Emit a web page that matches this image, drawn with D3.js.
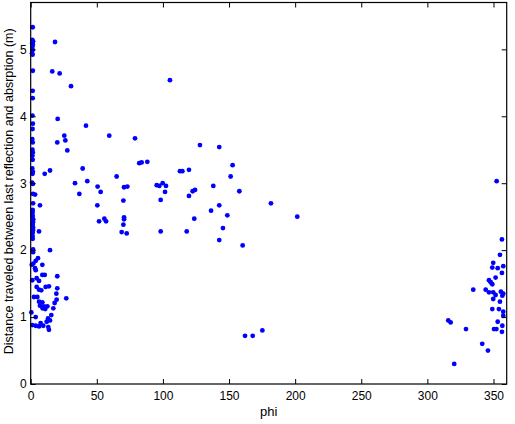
<!DOCTYPE html>
<html><head><meta charset="utf-8">
<script src="https://cdn.jsdelivr.net/npm/d3@7"></script>
<style>body{margin:0;background:#fff}svg{display:block}text{font-family:"Liberation Sans",Arial,sans-serif}</style>
</head><body>
<svg id="c" width="515" height="424"></svg>
<script>
// phi (degrees) and distance (m) for each point
const phi = [
 // near-zero column
 1.5,1.2,1.8,1.2,1.6,1.3,1.5,1.0,1.4,1.6,1.5,1.5,1.3,1.6,1.4,1.2,1.5,1.3,1.6,1.3,1.5,1.2,1.6,1.4,1.0,1.6,1.8,3.3,1.8,1.5,1.4,1.5,1.9,1.8,1.5,1.8,1.8,1.5,1.4,1.5,1.8,1.8,
 // upper-left scatter
 18.4,16.3,21.9,30.5,20.4,41.8,25.4,26.2,20.1,27.7,39.3,14.6,10.6,33.5,42.8,36.8,7.0,6.3,14.6,59.4,65,50.6,52.9,50.4,55.7,57,51.7,
 // lower-left cluster
 2.0,3.8,5.5,8.8,3.8,8.8,10.6,20.1,1.2,4.5,6.3,4.5,6.3,11.3,13.8,20.1,8,2.5,5.0,19.4,26.9,19.6,6.3,8.8,18.1,7,10,12.6,9,11,17.1,15.6,0.5,3.8,1.2,3.8,7.5,6.3,9.5,13.1,12.1,14.6,13.3,13.8,0.8,3.3,
 // middle
 78.9,128,142.6,82.1,83.9,88.2,152.7,112.9,114.7,119.7,151.2,70.6,73.1,95.3,97.3,99.8,102.3,138.1,101.6,122.5,124.3,119.7,157.8,70.1,98.3,181.7,142.6,136.4,148.7,201.6,70.6,70.6,70.1,123.7,145.4,68.8,72.6,98.3,118,142.6,160.3,105.3,162.1,167.9,175.2,
 // right cluster
 352.4,356.4,354.9,349.8,349.1,353.2,357.4,356.4,351.6,346.6,347.9,349.1,334.7,344.1,346.6,349.8,351.6,355.6,357.4,356.7,349.8,354.9,349.1,354.1,357.4,357.4,353.2,356.7,350.4,352.2,356.4,315.8,317.6,329.2,341.5,345.8,320.3
];
const dist = [
 5.33,5.14,5.12,5.09,5.07,5.04,4.99,4.94,4.92,4.68,4.38,4.27,4.01,3.89,3.81,3.66,3.61,3.50,3.46,3.41,3.35,3.22,3.17,3.14,3.01,2.99,2.84,2.83,2.70,2.60,2.56,2.51,2.46,2.42,2.38,2.34,2.30,2.26,2.21,2.17,2.01,1.97,
 5.11,4.67,4.64,4.45,3.96,3.86,3.71,3.64,3.61,3.49,3.22,3.19,3.14,3.00,3.03,2.84,2.67,2.28,2.00,3.71,3.10,2.95,2.87,2.67,2.47,2.43,2.43,
 1.80,1.84,1.88,1.78,1.70,1.63,1.63,1.61,1.55,1.58,1.54,1.45,1.41,1.45,1.46,1.43,1.40,1.30,1.30,1.35,1.28,1.26,1.23,1.22,1.21,1.17,1.16,1.16,1.13,1.12,1.13,1.03,1.07,1.00,0.88,0.87,0.91,0.86,0.87,0.98,0.93,0.95,0.85,0.81,1.78,1.73,
 3.67,3.57,3.54,3.30,3.31,3.32,3.27,3.18,3.18,3.20,3.10,2.94,2.95,2.97,2.96,3.00,2.96,2.96,2.87,2.88,2.90,2.81,2.88,2.74,2.75,2.70,2.67,2.59,2.52,2.50,2.49,2.46,2.38,2.47,2.33,2.27,2.25,2.28,2.28,2.15,2.07,4.54,0.72,0.72,0.80,
 3.03,2.16,1.93,1.81,1.74,1.73,1.76,1.66,1.59,1.55,1.52,1.49,1.41,1.41,1.37,1.37,1.33,1.38,1.35,1.32,1.27,1.23,1.12,1.12,1.08,1.02,0.93,0.87,0.82,0.82,0.78,0.95,0.92,0.82,0.60,0.50,0.30
];
const xTicks = [0,50,100,150,200,250,300,350];
const yTicks = [0,1,2,3,4,5];
const xLabel = "phi";
const yLabel = "Distance traveled between last reflection and absrption (m)";

const L = 30.7, R = 506.7, T = 2.5, B = 384;
const svg = d3.select("#c");
const x = d3.scaleLinear().domain([0,360]).range([L,R]);
const y = d3.scaleLinear().domain([0,5.7]).range([B,T]);
const tl = 5;
const fmt = d3.format("d");

// points
svg.append("g").selectAll("circle").data(phi.map((p,i)=>[p,dist[i]])).join("circle")
  .attr("cx",d=>x(d[0])).attr("cy",d=>y(d[1])).attr("r",2.4).attr("fill","#0000ff");

// axes (MATLAB-style box with inward ticks)
svg.append("rect").attr("x",L).attr("y",T).attr("width",R-L).attr("height",B-T)
  .attr("fill","none").attr("stroke","#000").attr("stroke-width",1.2);
const axBottom = d3.axisBottom(x).tickValues(xTicks).tickFormat(fmt).tickSizeInner(-tl).tickSizeOuter(0).tickPadding(7);
const gB = svg.append("g").attr("transform",`translate(0,${B})`).call(axBottom);
const axTop = d3.axisTop(x).tickValues(xTicks).tickSizeInner(-tl).tickSizeOuter(0).tickFormat("");
const gT = svg.append("g").attr("transform",`translate(0,${T})`).call(axTop);
const axLeft = d3.axisLeft(y).tickValues(yTicks).tickFormat(fmt).tickSizeInner(-tl).tickSizeOuter(0).tickPadding(4);
const gL = svg.append("g").attr("transform",`translate(${L},0)`).call(axLeft);
const axRight = d3.axisRight(y).tickValues(yTicks).tickSizeInner(-tl).tickSizeOuter(0).tickFormat("");
const gR = svg.append("g").attr("transform",`translate(${R},0)`).call(axRight);
[gB,gT,gL,gR].forEach(g=>{
  g.select(".domain").remove();
  g.selectAll("line").attr("stroke","#000");
  g.selectAll("text").attr("font-size",12).attr("fill","#000").style("font-family",'"Liberation Sans",Arial,sans-serif');
});

svg.append("text").attr("x",(L+R)/2).attr("y",416).attr("text-anchor","middle")
  .attr("font-size",13).text(xLabel);
svg.append("text").attr("transform",`translate(13,${(T+B)/2-2}) rotate(-90)`).attr("text-anchor","middle")
  .attr("font-size",12.5).text(yLabel);
</script>
</body></html>
